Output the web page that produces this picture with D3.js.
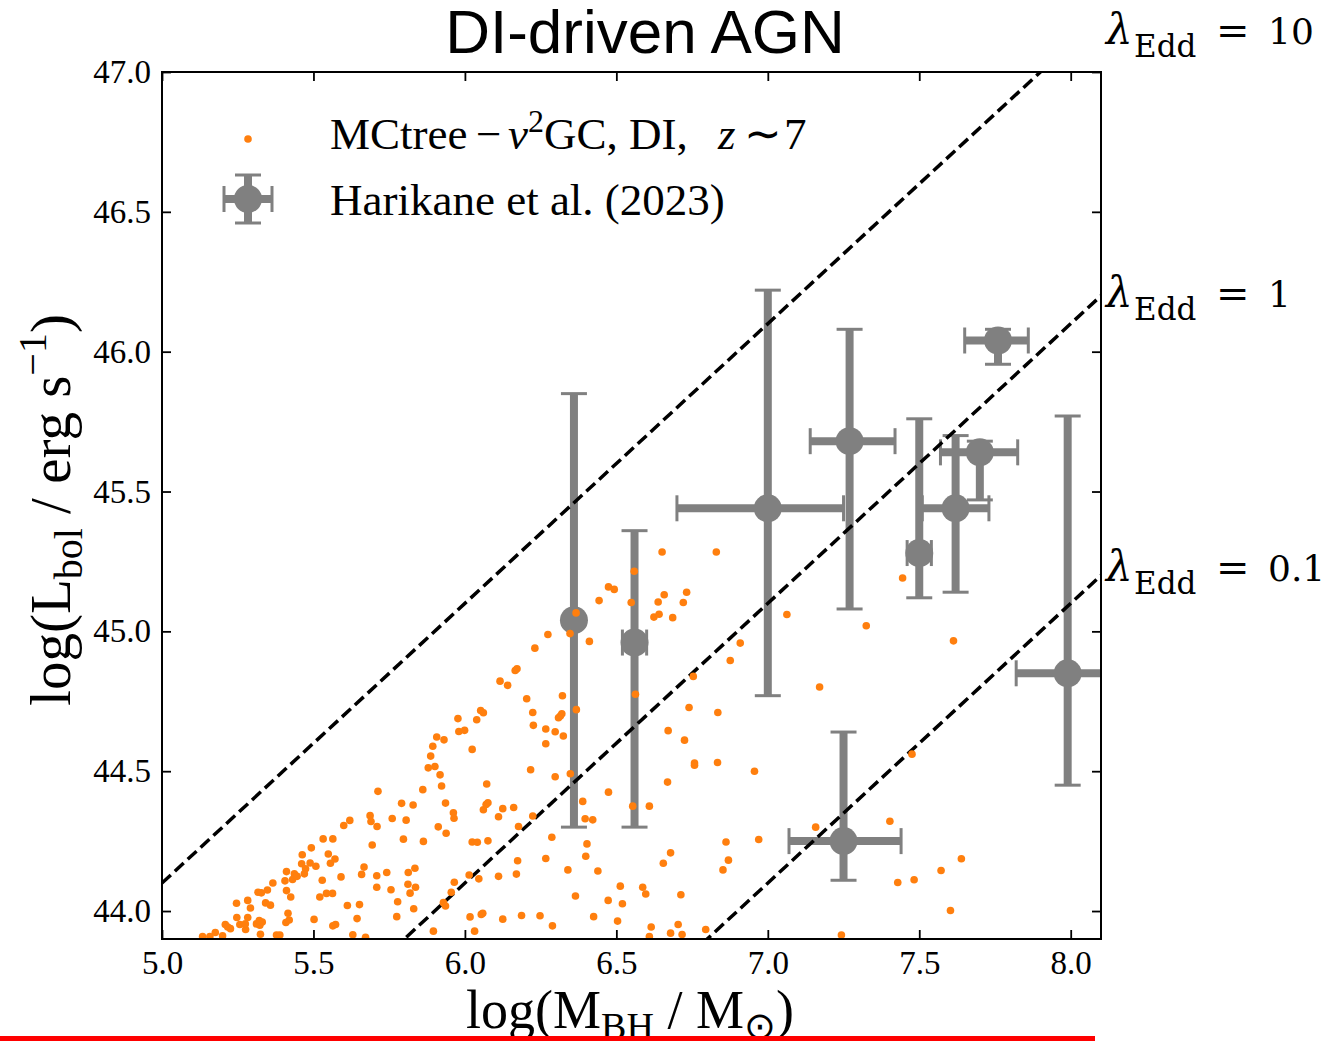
<!DOCTYPE html>
<html>
<head>
<meta charset="utf-8">
<script src="https://cdn.jsdelivr.net/npm/d3@7"></script>
<style>
  body { margin: 0; background: #fff; }
  svg { display: block; }
  .axis text { font-family: "Liberation Serif", "Times New Roman", serif; font-size: 33px; fill: #000; }
  .axis line { stroke: #000; stroke-width: 1.8px; }
  .serif { font-family: "Liberation Serif", "Times New Roman", serif; }
</style>
</head>
<body>
<svg width="1337" height="1041"></svg>
<script>
// MCtree - nu^2GC, DI, z~7 (model AGN)
var simMbh = [
  5.977, 6.039, 6.052, 6.061, 5.980, 5.999, 5.907, 5.931, 5.894, 6.024, 5.887, 5.879, 5.901, 5.918, 5.923, 5.861,
  5.713, 5.936, 5.962, 5.964, 5.791, 5.829, 5.687, 5.690, 5.710, 5.760, 5.806, 5.600, 5.620, 5.912, 5.938, 5.694,
  5.532, 5.564, 5.493, 5.797, 5.863, 6.024, 6.041, 6.076, 6.072, 6.061, 6.070, 6.076, 6.111, 5.463, 5.461, 5.489,
  5.474, 5.508, 5.549, 5.556, 5.571, 5.411, 5.437, 5.431, 5.446, 5.470, 5.406, 5.366, 5.348, 5.317, 5.328, 5.411,
  5.425, 5.283, 5.246, 5.292, 5.342, 5.358, 5.529, 5.591, 5.667, 5.659, 5.709, 5.709, 5.742, 5.813, 5.835, 5.812,
  5.837, 5.819, 5.756, 5.521, 5.543, 5.563, 5.612, 5.652, 5.778, 5.831, 5.775, 5.644, 5.502, 5.564, 5.573, 5.416,
  5.409, 5.420, 5.247, 5.283, 5.276, 5.257, 5.275, 5.209, 5.226, 5.217, 5.312, 5.323, 5.331, 5.321, 5.325, 5.176,
  5.134, 5.158, 5.200, 5.378, 5.389, 5.630, 5.672, 5.896, 5.965, 5.955, 5.929, 5.936, 6.014, 6.046, 6.017, 6.054,
  6.059, 6.032, 6.111,
  6.651, 6.830, 6.559, 6.474, 6.493, 6.443, 6.549, 6.638, 6.658, 6.732, 6.721, 6.624, 6.641, 6.686, 6.367, 6.274,
  6.347, 6.231, 6.411, 6.166, 6.172, 6.116, 6.141, 6.909, 7.063, 6.876, 6.754, 6.563, 6.204, 6.322, 6.224, 6.315,
  6.320, 6.309, 6.368, 6.226, 6.267, 6.298, 6.325, 6.267, 6.740, 6.835, 6.671, 6.725, 6.758, 6.758, 6.834, 6.956,
  6.217, 6.298, 6.348, 6.669, 6.474, 6.389, 6.125, 6.161, 6.397, 6.422, 6.554, 6.609, 6.224, 6.177, 6.287, 6.403,
  6.399, 6.862, 6.970, 6.679, 6.655, 6.870, 6.852, 6.174, 6.267, 6.170, 6.340, 6.439, 6.513, 6.587, 6.597, 6.713,
  6.365, 6.473, 6.520, 6.125, 6.187, 6.248, 6.289, 6.425, 6.504, 6.615, 6.609, 6.679, 6.704, 6.717, 6.795,
  7.171, 7.476, 7.158, 7.403, 7.639, 7.572, 7.429, 7.483, 7.603, 7.243, 7.325, 7.445, 7.613
];
var simLbol = [
  44.688, 44.684, 44.717, 44.709, 44.642, 44.646, 44.622, 44.612, 44.589, 44.578, 44.554, 44.512, 44.517, 44.487, 44.447, 44.434,
  44.428, 44.386, 44.351, 44.332, 44.385, 44.379, 44.341, 44.320, 44.302, 44.331, 44.325, 44.306, 44.324, 44.301, 44.278, 44.236,
  44.258, 44.258, 44.226, 44.257, 44.249, 44.247, 44.246, 44.251, 44.454, 44.362, 44.381, 44.387, 44.337, 44.201, 44.169, 44.172,
  44.151, 44.160, 44.204, 44.171, 44.186, 44.141, 44.133, 44.113, 44.124, 44.133, 44.108, 44.100, 44.075, 44.067, 44.065, 44.073,
  44.050, 44.038, 44.028, 44.011, 44.029, 44.021, 44.110, 44.122, 44.157, 44.131, 44.126, 44.085, 44.138, 44.138, 44.153, 44.096,
  44.085, 44.064, 44.076, 44.050, 44.063, 44.063, 44.020, 44.023, 44.033, 44.008, 43.980, 43.973, 43.970, 43.947, 43.952, 43.992,
  43.959, 43.968, 43.977, 43.977, 43.934, 43.952, 43.954, 43.952, 43.937, 43.943, 43.954, 43.949, 43.961, 43.966, 43.917, 43.923,
  43.909, 43.909, 43.911, 43.914, 43.914, 43.915, 43.906, 43.928, 44.103, 44.067, 44.030, 44.018, 44.129, 44.115, 43.979, 43.988,
  43.992, 43.928, 44.124,
  45.284, 45.284, 45.215, 45.159, 45.150, 45.110, 45.103, 45.105, 45.131, 45.140, 45.103, 45.051, 45.061, 45.049, 45.066, 44.989,
  44.992, 44.940, 44.964, 44.860, 44.866, 44.822, 44.807, 44.958, 45.060, 44.896, 44.839, 44.775, 44.759, 44.770, 44.710, 44.697,
  44.705, 44.691, 44.720, 44.664, 44.651, 44.641, 44.626, 44.598, 44.728, 44.710, 44.645, 44.611, 44.529, 44.521, 44.531, 44.500,
  44.505, 44.480, 44.491, 44.461, 44.425, 44.392, 44.366, 44.370, 44.330, 44.326, 44.375, 44.375, 44.340, 44.302, 44.264, 44.240,
  44.196, 44.247, 44.256, 44.208, 44.171, 44.182, 44.147, 44.180, 44.188, 44.132, 44.147, 44.143, 44.089, 44.085, 44.061, 44.058,
  44.054, 44.038, 44.026, 43.971, 43.984, 43.983, 43.947, 43.980, 43.964, 43.943, 43.909, 43.921, 43.952, 43.916, 43.934,
  44.801, 44.561, 44.300, 44.321, 44.187, 44.145, 44.102, 44.112, 44.002, 43.914, 45.020, 45.191, 44.966
];

// Harikane et al. (2023)
var obsMbh = [6.36, 6.56, 7.00, 7.27, 7.50, 7.62, 7.70, 7.76, 7.99, 7.25];
var obsLbol = [45.04, 44.96, 45.44, 45.68, 45.28, 45.44, 45.64, 46.04, 44.85, 44.25];
var obsMbhErrLo = [0, 0.04, 0.30, 0.13, 0.04, 0.11, 0.13, 0.11, 0.17, 0.18];
var obsMbhErrHi = [0, 0.04, 0.25, 0.15, 0.04, 0.11, 0.125, 0.10, 0.17, 0.19];
var obsLbolErrLo = [0.74, 0.66, 0.67, 0.60, 0.16, 0.30, 0.17, 0.085, 0.40, 0.14];
var obsLbolErrHi = [0.81, 0.40, 0.78, 0.40, 0.48, 0.26, 0.04, 0.04, 0.92, 0.39];

// Eddington ratio lines
var eddRatios = [10, 1, 0.1];
var eddLabels = ["10", "1", "0.1"];

var xTicks = [5.0, 5.5, 6.0, 6.5, 7.0, 7.5, 8.0];
var yTicks = [44.0, 44.5, 45.0, 45.5, 46.0, 46.5, 47.0];

var svg = d3.select("svg"),
    margin = {top: 72, right: 236, bottom: 102, left: 162},
    width = +svg.attr("width") - margin.left - margin.right,
    height = +svg.attr("height") - margin.top - margin.bottom,
    g = svg.append("g").attr("transform", "translate(" + margin.left + "," + margin.top + ")");

var x = d3.scaleLinear().domain([5.0, 8.1]).range([0, width]),
    y = d3.scaleLinear().domain([43.9, 47.0]).range([height, 0]);

var grey = "#808080", orange = "#ff7f0e";

svg.append("defs").append("clipPath").attr("id", "plot-clip")
  .append("rect").attr("width", width).attr("height", height);

var plot = g.append("g").attr("clip-path", "url(#plot-clip)");

// error bars
var obs = obsMbh.map(function(m, i) {
  return {m: m, l: obsLbol[i], xlo: obsMbhErrLo[i], xhi: obsMbhErrHi[i], ylo: obsLbolErrLo[i], yhi: obsLbolErrHi[i]};
});

var capHalf = 13;
var eb = plot.selectAll(".errbar").data(obs).enter().append("g").attr("class", "errbar");

eb.append("line")
    .attr("x1", function(d) { return x(d.m); })
    .attr("x2", function(d) { return x(d.m); })
    .attr("y1", function(d) { return y(d.l - d.ylo); })
    .attr("y2", function(d) { return y(d.l + d.yhi); })
    .attr("stroke", grey).attr("stroke-width", 8);

eb.filter(function(d) { return d.xlo > 0 || d.xhi > 0; }).append("line")
    .attr("x1", function(d) { return x(d.m - d.xlo); })
    .attr("x2", function(d) { return x(d.m + d.xhi); })
    .attr("y1", function(d) { return y(d.l); })
    .attr("y2", function(d) { return y(d.l); })
    .attr("stroke", grey).attr("stroke-width", 8);

[function(d) { return d.l - d.ylo; }, function(d) { return d.l + d.yhi; }].forEach(function(f) {
  eb.append("line")
      .attr("x1", function(d) { return x(d.m) - capHalf; })
      .attr("x2", function(d) { return x(d.m) + capHalf; })
      .attr("y1", function(d) { return y(f(d)); })
      .attr("y2", function(d) { return y(f(d)); })
      .attr("stroke", grey).attr("stroke-width", 3);
});

[function(d) { return d.m - d.xlo; }, function(d) { return d.m + d.xhi; }].forEach(function(f) {
  eb.filter(function(d) { return d.xlo > 0 || d.xhi > 0; }).append("line")
      .attr("x1", function(d) { return x(f(d)); })
      .attr("x2", function(d) { return x(f(d)); })
      .attr("y1", function(d) { return y(d.l) - capHalf; })
      .attr("y2", function(d) { return y(d.l) + capHalf; })
      .attr("stroke", grey).attr("stroke-width", 3);
});

eb.append("circle")
    .attr("cx", function(d) { return x(d.m); })
    .attr("cy", function(d) { return y(d.l); })
    .attr("r", 14)
    .attr("fill", grey);

// L_Edd = 1.26e38 (M/Msun) erg/s
var eddLine = d3.line()
    .x(function(d) { return x(d.m); })
    .y(function(d) { return y(d.l); });

plot.selectAll(".edd").data(eddRatios).enter().append("path")
    .attr("class", "edd")
    .attr("d", function(r) {
      return eddLine(x.domain().map(function(m) { return {m: m, l: 38.1 + Math.log10(r) + m}; }));
    })
    .attr("fill", "none")
    .attr("stroke", "#000")
    .attr("stroke-width", 3.5)
    .attr("stroke-dasharray", "12,5.5");

plot.selectAll(".sim").data(simMbh).enter().append("circle")
    .attr("class", "sim")
    .attr("cx", function(d) { return x(d); })
    .attr("cy", function(d, i) { return y(simLbol[i]); })
    .attr("r", 3.8)
    .attr("fill", orange);

// axes, ticks inward on all four sides
var fmt = d3.format(".1f");

g.append("g")
    .attr("class", "axis")
    .attr("transform", "translate(0," + height + ")")
    .call(d3.axisBottom(x).tickValues(xTicks).tickFormat(fmt).tickSize(-9).tickSizeOuter(0).tickPadding(12));

g.append("g")
    .attr("class", "axis")
    .call(d3.axisLeft(y).tickValues(yTicks).tickFormat(fmt).tickSize(-9).tickSizeOuter(0).tickPadding(11));

g.append("g")
    .attr("class", "axis")
    .call(d3.axisTop(x).tickValues(xTicks).tickFormat("").tickSize(-9).tickSizeOuter(0));

g.append("g")
    .attr("class", "axis")
    .attr("transform", "translate(" + width + ",0)")
    .call(d3.axisRight(y).tickValues(yTicks).tickFormat("").tickSize(-9).tickSizeOuter(0));

g.selectAll(".domain").remove();

g.append("rect")
    .attr("width", width).attr("height", height)
    .attr("fill", "none").attr("stroke", "#000").attr("stroke-width", 2);

// title
svg.append("text")
    .attr("x", 645).attr("y", 53)
    .attr("text-anchor", "middle")
    .style("font", "62px 'Liberation Sans', Arial, sans-serif")
    .text("DI-driven AGN");

// axis labels
var xl = svg.append("text")
    .attr("class", "serif")
    .attr("x", 630).attr("y", 1028)
    .attr("text-anchor", "middle")
    .style("font-size", "54px");
xl.append("tspan").text("log(M");
xl.append("tspan").attr("dy", 11).style("font-size", "38px").text("BH");
xl.append("tspan").attr("dy", -11).text(" / M");
xl.append("tspan").attr("dy", 11).style("font-size", "38px").text("\u2299");
xl.append("tspan").attr("dy", -11).text(")");

var yl = svg.append("text")
    .attr("class", "serif")
    .attr("transform", "translate(70,510) rotate(-90)")
    .attr("text-anchor", "middle")
    .style("font-size", "57px");
yl.append("tspan").text("log(L");
yl.append("tspan").attr("dy", 12).style("font-size", "40px").text("bol");
yl.append("tspan").attr("dy", -12).text(" / erg s");
yl.append("tspan").attr("dy", -24).style("font-size", "40px").text("\u22121");
yl.append("tspan").attr("dy", 24).text(")");

// Eddington ratio labels
var eddBaseline = [44, 307, 581];
eddRatios.forEach(function(r, i) {
  var t = svg.append("text")
      .attr("y", eddBaseline[i])
      .style("font-family", "'DejaVu Serif', serif")
      .style("font-size", "36px");
  t.append("tspan").attr("x", 1106).style("font-style", "italic").style("font-size", "42px").text("\u03bb");
  t.append("tspan").attr("x", 1134).attr("dy", 13).style("font-size", "31px").text("Edd");
  t.append("tspan").attr("x", 1216).attr("dy", -13).style("font-size", "40px").text("=");
  t.append("tspan").attr("x", 1268).text(eddLabels[i]);
});

// legend
var leg = svg.append("g");
leg.append("circle").attr("cx", 248).attr("cy", 139).attr("r", 3.8).attr("fill", orange);

var lx = 248, ly = 199, la = 24;
leg.append("line").attr("x1", lx - la).attr("x2", lx + la).attr("y1", ly).attr("y2", ly)
    .attr("stroke", grey).attr("stroke-width", 8);
leg.append("line").attr("x1", lx).attr("x2", lx).attr("y1", ly - la).attr("y2", ly + la)
    .attr("stroke", grey).attr("stroke-width", 8);
[-la, la].forEach(function(o) {
  leg.append("line").attr("x1", lx - capHalf).attr("x2", lx + capHalf).attr("y1", ly + o).attr("y2", ly + o)
      .attr("stroke", grey).attr("stroke-width", 3);
  leg.append("line").attr("x1", lx + o).attr("x2", lx + o).attr("y1", ly - capHalf).attr("y2", ly + capHalf)
      .attr("stroke", grey).attr("stroke-width", 3);
});
leg.append("circle").attr("cx", lx).attr("cy", ly).attr("r", 14).attr("fill", grey);

var t1 = leg.append("text").attr("class", "serif").attr("y", 149).style("font-size", "45px");
t1.append("tspan").attr("x", 330).text("MCtree");
t1.append("tspan").attr("x", 476).text("\u2212");
t1.append("tspan").attr("x", 508).style("font-style", "italic").text("\u03bd");
t1.append("tspan").attr("dy", -17).style("font-size", "32px").text("2");
t1.append("tspan").attr("dy", 17).text("GC, DI,");
t1.append("tspan").attr("x", 718).style("font-style", "italic").text("z");
t1.append("tspan").attr("x", 744).text("\u223c");
t1.append("tspan").attr("x", 784).text("7");

leg.append("text").attr("class", "serif")
    .attr("x", 330).attr("y", 215)
    .style("font-size", "45px")
    .text("Harikane et al. (2023)");

// red underline strip at the bottom of the image
svg.append("rect")
    .attr("x", 0).attr("y", 1036)
    .attr("width", 1095).attr("height", 5)
    .attr("fill", "#ff0000");
</script>
</body>
</html>
